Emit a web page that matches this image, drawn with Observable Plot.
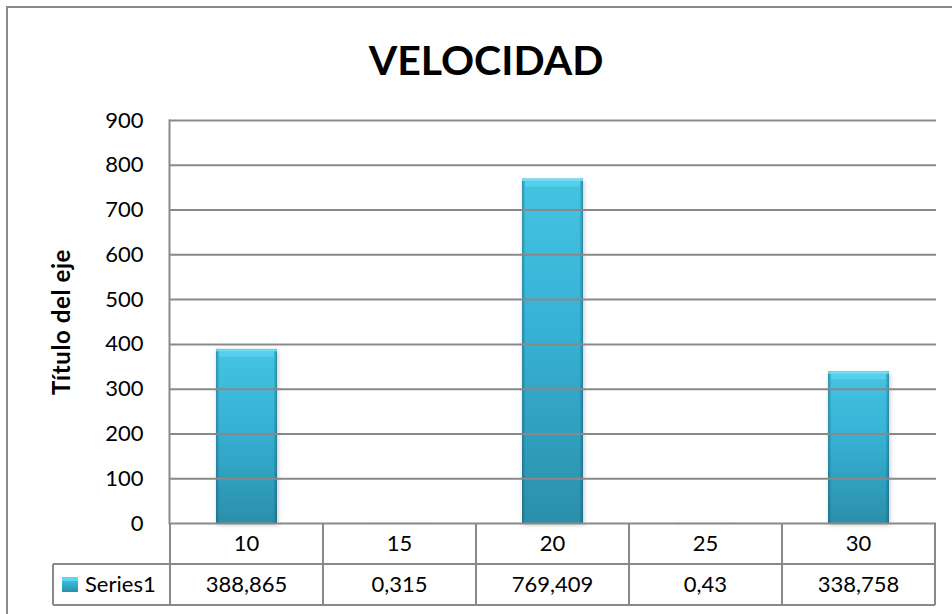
<!DOCTYPE html>
<html><head><meta charset="utf-8">
<script src="https://cdn.jsdelivr.net/npm/d3@7"></script>
<script src="https://cdn.jsdelivr.net/npm/@observablehq/plot@0.6"></script>
<style>
body{margin:0;background:#fff;}
#wrap{position:relative;width:952px;height:614px;overflow:hidden;background:#fff;}
#frame{position:absolute;left:6px;top:6px;width:1000px;height:700px;border:2px solid #8a8a8a;box-sizing:border-box;}
#wrap svg{position:absolute;left:0;top:0;}
</style></head><body><div id="wrap"><div id="frame"></div></div>
<script>
const chartTitle = "VELOCIDAD";
const yTitle = "Título del eje";
const seriesName = "Series1";
const categories = ["10", "15", "20", "25", "30"];
const values = [388.865, 0.315, 769.409, 0.43, 338.758];
const valueLabels = ["388,865", "0,315", "769,409", "0,43", "338,758"];
const yTicks = [0, 100, 200, 300, 400, 500, 600, 700, 800, 900];

const data = categories.map((c, i) => ({cat: c, v: values[i]}));
const gridColor = "#898989";
const font = "Lato, 'Open Sans', sans-serif";

const plot = Plot.plot({
  width: 952, height: 614,
  marginTop: 120, marginBottom: 91, marginLeft: 169, marginRight: 16,
  style: {fontFamily: font, fontSize: "22px", color: "#000", background: "transparent", overflow: "visible"},
  x: {domain: categories, paddingInner: 0.6, paddingOuter: 0.3, axis: null},
  y: {domain: [0, 900], ticks: yTicks, tickSize: 0, tickPadding: 26, label: null},
  marks: [
    Plot.barY(data, {x: "cat", y: "v", fill: "url(#barGrad)"}),
    Plot.barY(data, {x: "cat", y: "v", fill: "url(#barEdge)"}),
    Plot.tickY(data.filter(d => d.v > 10), {x: "cat", y: "v", dy: 4, stroke: "#55cfec", strokeWidth: 7, insetLeft: 3, insetRight: 3}),
    Plot.tickY(data.filter(d => d.v > 10), {x: "cat", y: "v", dy: 1, stroke: "#6fdcf3", strokeWidth: 2}),
    Plot.ruleY(yTicks, {stroke: gridColor, strokeWidth: 2}),
    Plot.frame({anchor: "left", stroke: gridColor, strokeWidth: 2})
  ]
});

const svg = d3.select(plot);
const defs = svg.insert("defs", ":first-child");
const g1 = defs.append("linearGradient").attr("id", "barGrad").attr("x1", 0).attr("y1", 0).attr("x2", 0).attr("y2", 1);
[[0, "#45c4e2"], [0.45, "#36b1d4"], [1, "#2b8fab"]].forEach(([o, c]) => g1.append("stop").attr("offset", o).attr("stop-color", c));
const g2 = defs.append("linearGradient").attr("id", "barEdge").attr("x1", 0).attr("y1", 0).attr("x2", 1).attr("y2", 0);
[[0, "rgba(10,70,90,0.4)"], [0.06, "rgba(10,70,90,0)"], [0.94, "rgba(10,70,90,0)"], [1, "rgba(10,70,90,0.45)"]].forEach(([o, c]) => g2.append("stop").attr("offset", o).attr("stop-color", c));
svg.select('g[aria-label="bar"]').style("filter", "drop-shadow(1px 2px 2px rgba(0,0,0,0.22))");

const xs = plot.scale("x");
const ys = plot.scale("y");
const y0 = ys.apply(0);
const row1B = y0 + 41, row2B = y0 + 82;
const gap = (xs.step - xs.bandwidth) / 2;
const lefts = categories.map(c => xs.apply(c) - gap);
const rightEdge = xs.apply(categories[categories.length - 1]) + xs.bandwidth + gap;
const legendLeft = 53;

const tbl = svg.append("g").attr("stroke", gridColor).attr("stroke-width", 2);
tbl.append("line").attr("x1", legendLeft).attr("x2", rightEdge).attr("y1", row1B).attr("y2", row1B);
tbl.append("line").attr("x1", legendLeft).attr("x2", rightEdge).attr("y1", row2B).attr("y2", row2B);
tbl.append("line").attr("x1", legendLeft).attr("x2", legendLeft).attr("y1", row1B).attr("y2", row2B);
lefts.concat([rightEdge]).forEach(xv => tbl.append("line").attr("x1", xv).attr("x2", xv).attr("y1", y0).attr("y2", row2B));

const txt = svg.append("g").attr("font-family", font).attr("font-size", 22).attr("fill", "#000").attr("text-anchor", "middle");
categories.forEach((c, i) => {
  const cx = xs.apply(c) + xs.bandwidth / 2;
  txt.append("text").attr("x", cx).attr("y", (y0 + row1B) / 2).attr("dy", "0.36em").text(c);
  txt.append("text").attr("x", cx).attr("y", (row1B + row2B) / 2).attr("dy", "0.36em").text(valueLabels[i]);
});
svg.append("rect").attr("x", 62).attr("y", 577).attr("width", 16).attr("height", 15).attr("fill", "url(#barGrad)");
svg.append("rect").attr("x", 62).attr("y", 577).attr("width", 16).attr("height", 4).attr("fill", "#5fd6f0");
svg.append("text").attr("x", 85).attr("y", (row1B + row2B) / 2).attr("dy", "0.36em").attr("text-anchor", "start")
  .attr("font-family", font).attr("font-size", 22).text(seriesName);

svg.append("text").attr("x", 486).attr("y", 75).attr("text-anchor", "middle")
  .attr("font-family", font).attr("font-weight", "bold").attr("font-size", 41).text(chartTitle);
svg.append("text").attr("transform", "translate(61,322) rotate(-90)").attr("text-anchor", "middle").attr("dy", "0.36em")
  .attr("font-family", font).attr("font-weight", "bold").attr("font-size", 24).attr("letter-spacing", "0.6px").text(yTitle);

document.getElementById("wrap").appendChild(plot);
</script>
</body></html>
